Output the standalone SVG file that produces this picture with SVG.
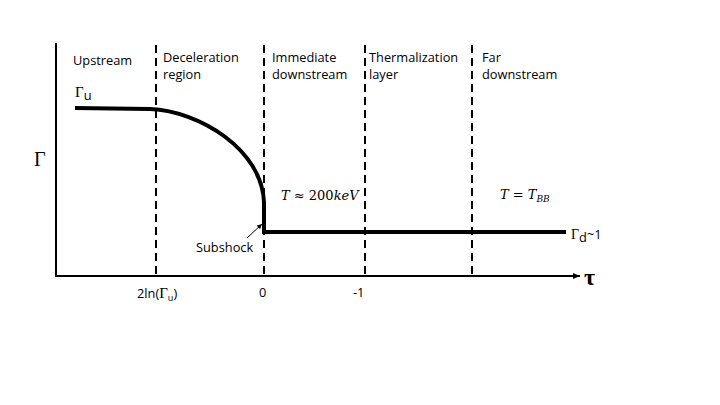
<svg xmlns="http://www.w3.org/2000/svg" width="720" height="405" viewBox="0 0 720 405">
<style>
.lbl{font-family:"Open Sans","Liberation Sans",sans-serif;font-size:12.8px;fill:#000}
.ser{font-family:"Liberation Serif","DejaVu Serif",serif;fill:#000}
.math{font-family:"DejaVu Serif","Liberation Serif",serif;font-style:italic;font-size:13px;fill:#000}
.dash{stroke:#000;stroke-width:2;stroke-dasharray:8,5;fill:none}
</style>
<defs>
<marker id="ah" markerWidth="8" markerHeight="8" refX="7" refY="4" orient="auto" markerUnits="userSpaceOnUse">
<path d="M0,1 L7,4 L0,7 z" fill="#000"/>
</marker>
<marker id="ah2" markerWidth="6" markerHeight="6" refX="5" refY="3" orient="auto" markerUnits="userSpaceOnUse">
<path d="M0,0.5 L5,3 L0,5.5 z" fill="#000"/>
</marker>
</defs>
<rect width="720" height="405" fill="#fff"/>
<g id="connectors">
<line x1="56" y1="43" x2="56" y2="277" stroke="#000" stroke-width="2"/>
<line x1="55" y1="276" x2="580" y2="276" stroke="#000" stroke-width="2" marker-end="url(#ah)"/>
<line class="dash" x1="156" y1="45" x2="156" y2="276"/>
<line class="dash" x1="264" y1="45" x2="264" y2="276"/>
<line class="dash" x1="365" y1="45" x2="365" y2="276"/>
<line class="dash" x1="472" y1="45" x2="472" y2="276"/>
<path d="M75,108 L150,109 C200,111 262,150 264,202 L264,232 L566,232" fill="none" stroke="#000" stroke-width="4" stroke-linejoin="miter"/>
<line x1="247" y1="238" x2="262" y2="224" stroke="#000" stroke-width="1" marker-end="url(#ah2)"/>
</g>
<g id="regions">
<text class="lbl" x="73" y="65">Upstream</text>
<text class="lbl" x="163" y="62">Deceleration</text>
<text class="lbl" x="163" y="79">region</text>
<text class="lbl" x="272" y="62">Immediate</text>
<text class="lbl" x="272" y="79">downstream</text>
<text class="lbl" x="369" y="62">Thermalization</text>
<text class="lbl" x="369" y="79">layer</text>
<text class="lbl" x="482" y="62">Far</text>
<text class="lbl" x="482" y="79">downstream</text>
</g>
<g id="labels">
<text class="ser" x="75" y="97" font-size="15">Γ<tspan class="lbl" font-size="9" dy="3">u</tspan></text>
<text class="ser" x="34" y="166" font-size="20">Γ</text>
<text class="math" x="281" y="200">T ≈ <tspan font-style="normal">200</tspan>keV</text>
<text class="math" x="500" y="199">T = T<tspan font-size="9" dy="3">BB</tspan></text>
<text class="ser" x="571" y="239" font-size="14">Γ<tspan class="lbl" font-size="9" dy="3">d</tspan><tspan class="lbl" font-size="12.8" dy="-3">~1</tspan></text>
<text class="lbl" x="196" y="252">Subshock</text>
<text class="lbl" x="137" y="298">2ln(<tspan class="ser" font-size="15">Γ</tspan><tspan font-size="9" dy="3">u</tspan><tspan dy="-3">)</tspan></text>
<text class="lbl" x="259" y="297">0</text>
<text class="lbl" x="353" y="297">-1</text>
<text class="ser" x="584" y="285" font-size="24" font-weight="bold">τ</text>
</g>
</svg>
